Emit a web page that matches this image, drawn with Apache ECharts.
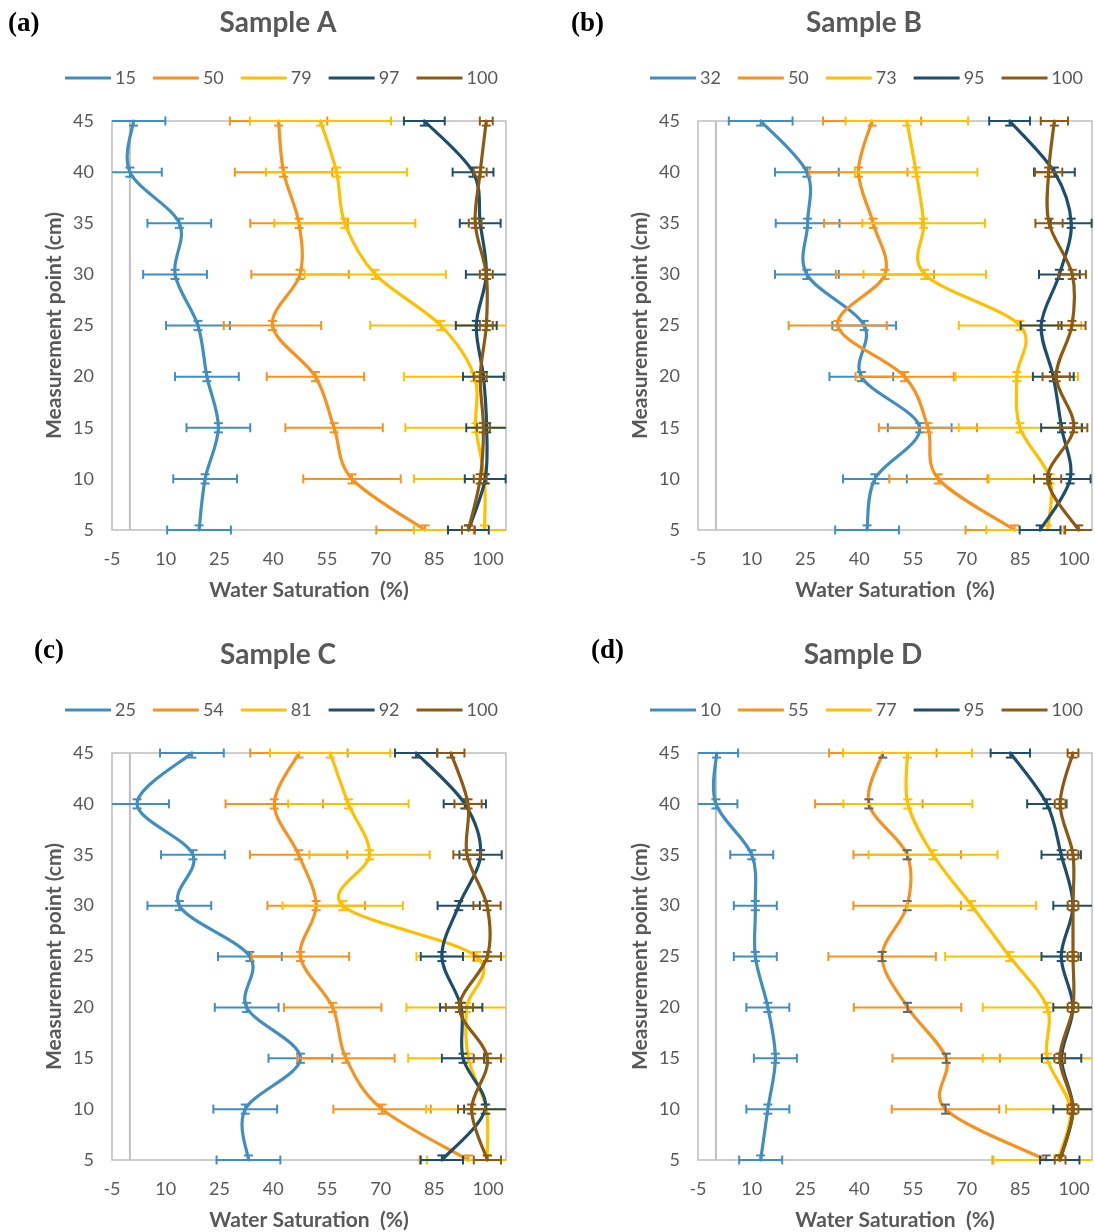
<!DOCTYPE html>
<html><head><meta charset="utf-8">
<script src="https://cdn.jsdelivr.net/npm/echarts@6/dist/echarts.min.js"></script>
<style>html,body{margin:0;padding:0;background:#fff}#c{width:1095px;height:1232px}</style>
</head><body><div id="c"></div><script>
// ---- data ----
const depth = [5, 10, 15, 20, 25, 30, 35, 40, 45];
const xTicks = [-5, 10, 25, 40, 55, 70, 85, 100];
const yTicks = [5, 10, 15, 20, 25, 30, 35, 40, 45];
const yErr = 0.45;
const zeroLine = 0;

const namesA = ['15', '50', '79', '97', '100'];
const valsA = [
  [19.3, 21.0, 24.7, 21.5, 19.0, 12.6, 13.8, 0.0, 1.0],
  [82.4, 62.0, 57.0, 51.8, 39.8, 47.5, 47.2, 42.9, 41.5],
  [99.0, 99.0, 96.6, 96.2, 86.8, 68.5, 60.0, 57.7, 53.2],
  [94.5, 99.2, 99.6, 98.7, 96.7, 99.5, 97.8, 95.8, 82.2],
  [94.5, 97.8, 98.7, 97.8, 99.5, 99.5, 96.4, 97.8, 99.5]
];
const errA = [8.9, 13.6, 19.7, 5.7, 1.8];

const namesB = ['32', '50', '73', '95', '100'];
const valsB = [
  [42.2, 44.4, 56.9, 40.6, 41.4, 25.4, 25.6, 25.4, 12.5],
  [83.4, 62.1, 59.2, 52.7, 34.0, 47.2, 43.9, 39.8, 43.6],
  [92.6, 93.3, 84.9, 84.0, 84.9, 58.3, 58.0, 55.9, 53.3],
  [90.5, 98.9, 96.5, 94.2, 90.8, 95.9, 99.2, 94.5, 82.0],
  [101.3, 92.6, 99.9, 95.0, 99.4, 99.5, 93.0, 92.9, 94.5]
];
const errB = [8.9, 13.7, 17.1, 5.7, 3.8];

const namesC = ['25', '54', '81', '92', '100'];
const valsC = [
  [33.1, 32.2, 47.6, 32.6, 33.5, 13.8, 17.6, 2.0, 17.3],
  [94.5, 70.4, 60.3, 56.6, 47.6, 52.0, 47.1, 40.3, 47.2],
  [99.7, 99.5, 94.5, 94.0, 96.8, 59.4, 66.9, 61.0, 55.9],
  [87.1, 99.2, 93.0, 92.5, 87.1, 91.8, 97.9, 93.5, 79.9],
  [99.8, 95.4, 99.8, 92.0, 99.8, 99.7, 94.1, 94.4, 89.6]
];
const errC = [8.9, 13.6, 16.8, 5.9, 3.8];

const namesD = ['10', '55', '77', '95', '100'];
const valsD = [
  [12.5, 14.5, 16.6, 14.5, 11.0, 11.0, 10.0, 0.0, 0.2],
  [92.2, 64.1, 64.3, 53.5, 46.4, 53.4, 53.4, 42.7, 46.6],
  [95.5, 99.0, 92.5, 92.5, 82.0, 71.4, 60.6, 53.6, 53.5],
  [96.0, 99.7, 96.5, 99.7, 96.4, 99.7, 96.4, 92.4, 82.2],
  [96.1, 99.7, 96.0, 99.7, 99.7, 99.7, 99.7, 96.1, 99.7]
];
const errD = [6.0, 15.0, 18.0, 5.5, 1.5];

const titles = ['Sample A', 'Sample B', 'Sample C', 'Sample D'];
const tags = ['(a)', '(b)', '(c)', '(d)'];

// ---- style / layout ----
const colors = ['#428EC0', '#F7921E', '#FFC000', '#1F4E6B', '#8C5A13'];
const textColor = '#595959';
const gridLine = '#BFBFBF';
const FONT = 'Lato, "Liberation Sans", sans-serif';
const grids = [
  {left: 112, top: 121, width: 394, height: 409},
  {left: 698, top: 121, width: 394, height: 409},
  {left: 112, top: 753, width: 394, height: 408},
  {left: 698, top: 753, width: 394, height: 408}
];
const legendPos = [{left: 60, top: 64}, {left: 645, top: 64}, {left: 60, top: 696}, {left: 645, top: 696}];
const titlePos = [[278, 23], [864, 23], [278, 655], [863, 655]];
const tagPos = [[8, 24], [571, 24], [34, 651], [591, 651]];
const yErrColors = [
  colors, colors, colors,
  [colors[0], '#666666', colors[2], colors[3], colors[4]]
];

const panelNames = [namesA, namesB, namesC, namesD];
const panelVals = [valsA, valsB, valsC, valsD];
const panelErr = [errA, errB, errC, errD];

// Excel-like smoothed line (Catmull-Rom bezier), points mapped through the axes
function makeCurve(vals, color) {
  const n = depth.length;
  return function (params, api) {
    const i = params.dataIndex;
    if (i >= n - 1) return {type: 'group', children: []};
    const P = j => { const k = Math.max(0, Math.min(n - 1, j)); return api.coord([vals[k], depth[k]]); };
    const p0 = P(i - 1), p1 = P(i), p2 = P(i + 1), p3 = P(i + 2);
    const T = 1 / 6;
    return {
      type: 'bezierCurve',
      shape: {
        x1: p1[0], y1: p1[1], x2: p2[0], y2: p2[1],
        cpx1: p1[0] + (p2[0] - p0[0]) * T, cpy1: p1[1] + (p2[1] - p0[1]) * T,
        cpx2: p2[0] - (p3[0] - p1[0]) * T, cpy2: p2[1] - (p3[1] - p1[1]) * T
      },
      style: {stroke: color, lineWidth: 3.2, fill: null, lineCap: 'round'}
    };
  };
}

function makeErr(color, ycolor) {
  return function (params, api) {
    const cs = params.coordSys;
    const x0 = cs.x, x1 = cs.x + cs.width, y0 = cs.y, y1 = cs.y + cs.height;
    const x = api.value(0), y = api.value(1), ex = api.value(2), ey = api.value(3);
    const p = api.coord([x, y]);
    let l = api.coord([x - ex, y])[0], r = api.coord([x + ex, y])[0];
    let t = api.coord([x, y + ey])[1], b = api.coord([x, y - ey])[1];
    const CAP = 4.5;
    const hs = {stroke: color, lineWidth: 2};
    const vs = {stroke: ycolor, lineWidth: 2};
    const ch = [];
    const lc = l >= x0, rc = r <= x1, tc = t >= y0, bc = b <= y1;
    l = Math.max(l, x0); r = Math.min(r, x1); t = Math.max(t, y0); b = Math.min(b, y1);
    ch.push({type: 'line', shape: {x1: l, y1: p[1], x2: r, y2: p[1]}, style: hs});
    if (lc) ch.push({type: 'line', shape: {x1: l, y1: p[1] - CAP, x2: l, y2: p[1] + CAP}, style: hs});
    if (rc) ch.push({type: 'line', shape: {x1: r, y1: p[1] - CAP, x2: r, y2: p[1] + CAP}, style: hs});
    ch.push({type: 'line', shape: {x1: p[0], y1: t, x2: p[0], y2: b}, style: vs});
    if (tc) ch.push({type: 'line', shape: {x1: p[0] - CAP, y1: t, x2: p[0] + CAP, y2: t}, style: vs});
    if (bc) ch.push({type: 'line', shape: {x1: p[0] - CAP, y1: b, x2: p[0] + CAP, y2: b}, style: vs});
    return {type: 'group', children: ch};
  };
}

function zeroRender(params, api) {
  const a = api.coord([api.value(0), api.value(1)]);
  const b = api.coord([api.value(0), api.value(2)]);
  return {type: 'line', shape: {x1: a[0], y1: a[1], x2: b[0], y2: b[1]}, style: {stroke: gridLine, lineWidth: 2}};
}

const option = {
  animation: false,
  backgroundColor: '#ffffff',
  textStyle: {fontFamily: FONT},
  grid: grids.map(g => Object.assign({show: true, borderColor: gridLine, borderWidth: 1.5, containLabel: false}, g)),
  xAxis: grids.map((g, i) => ({
    type: 'value', gridIndex: i,
    min: xTicks[0], max: 105, interval: xTicks[1] - xTicks[0],
    name: 'Water Saturation  (%)', nameLocation: 'middle', nameGap: 50,
    nameTextStyle: {color: textColor, fontWeight: 'bold', fontSize: 21, fontFamily: FONT},
    axisLine: {show: false}, axisTick: {show: false}, splitLine: {show: false},
    axisLabel: {color: textColor, fontSize: 18, margin: 20, fontFamily: FONT,
      formatter: v => xTicks.indexOf(v) >= 0 ? String(v) : ''}
  })),
  yAxis: grids.map((g, i) => ({
    type: 'value', gridIndex: i,
    min: yTicks[0], max: yTicks[yTicks.length - 1], interval: yTicks[1] - yTicks[0],
    name: 'Measurement point (cm)', nameLocation: 'middle', nameGap: 47, nameRotate: 90,
    nameTextStyle: {color: textColor, fontWeight: 'bold', fontSize: 21, fontFamily: FONT},
    axisLine: {show: false}, axisTick: {show: false}, splitLine: {show: false},
    axisLabel: {color: textColor, fontSize: 18, margin: 18, fontFamily: FONT}
  })),
  legend: panelNames.map((names, i) => Object.assign({
    data: names, icon: 'rect', itemWidth: 46, itemHeight: 3, itemGap: 17,
    textStyle: {color: textColor, fontSize: 18, fontFamily: FONT, padding: [0, 0, 0, -1]},
    selectedMode: false
  }, legendPos[i])),
  graphic: [].concat(
    titles.map((t, i) => ({type: 'text', x: titlePos[i][0], y: titlePos[i][1],
      style: {text: t, fill: textColor, font: 'bold 28px ' + FONT, textAlign: 'center', textVerticalAlign: 'middle'}})),
    tags.map((t, i) => ({type: 'text', x: tagPos[i][0], y: tagPos[i][1],
      style: {text: t, fill: '#000', font: 'bold 27px "Liberation Serif", serif', textAlign: 'left', textVerticalAlign: 'middle'}}))
  ),
  series: []
};

panelNames.forEach((names, p) => {
  option.series.push({
    type: 'custom', name: 'zero-' + p, xAxisIndex: p, yAxisIndex: p, silent: true, z: 1,
    renderItem: zeroRender,
    data: [[zeroLine, yTicks[0], yTicks[yTicks.length - 1]]]
  });
  names.forEach((nm, k) => {
    const vals = panelVals[p][k];
    option.series.push({
      type: 'custom', name: nm, xAxisIndex: p, yAxisIndex: p, silent: true, z: 3,
      itemStyle: {color: colors[k]},
      renderItem: makeCurve(vals, colors[k]),
      data: depth.map((d, j) => [vals[j], d])
    });
    option.series.push({
      type: 'custom', name: 'err-' + p + '-' + k, xAxisIndex: p, yAxisIndex: p,
      renderItem: makeErr(colors[k], yErrColors[p][k]),
      data: depth.map((d, j) => [vals[j], d, panelErr[p][k], yErr]),
      z: 3, silent: true
    });
  });
});

const chart = echarts.init(document.getElementById('c'), null, {renderer: 'canvas'});
chart.setOption(option);
</script></body></html>
